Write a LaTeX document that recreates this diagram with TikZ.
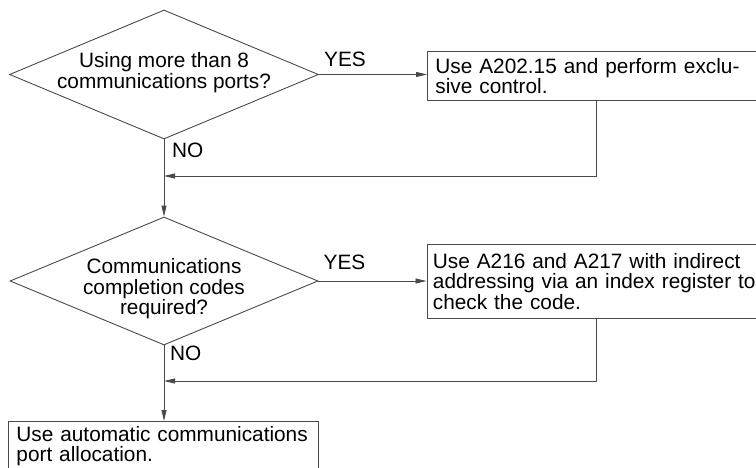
\documentclass[tikz,border=0pt]{standalone}
\usepackage{fontspec}
\setmainfont{Liberation Sans}
\usetikzlibrary{arrows.meta,positioning,shapes.geometric,calc}
\definecolor{Line}{HTML}{4A4A4A}

\begin{document}
\begin{tikzpicture}[x=1pt,y=1pt,
  decision/.style={diamond,draw=Line,line width=0.9pt,aspect=2.4,inner sep=0pt,minimum width=309pt,minimum height=129pt},
  question/.style={align=center,inner sep=0pt,font=\fontsize{20.8}{20.5}\selectfont},
  action/.style={rectangle,draw=Line,line width=0.9pt,anchor=north west,align=left,inner xsep=8pt,inner ysep=3pt,font=\fontsize{20.8}{20.5}\selectfont},
  flow/.style={draw=Line,line width=0.9pt,-{Triangle[length=11pt,width=5pt]}},
  tag/.style={font=\fontsize{20.8}{20.5}\selectfont,inner sep=0pt,anchor=base west}
]
\useasboundingbox (0,0) rectangle (756,467);
% decisions
\node[decision] (q1) at (164,392.5) {};
\node[question] (q1t) at ($(q1)+(0,2)$) {Using more than 8\\communications ports?};
\node[decision,minimum width=308pt,minimum height=128pt] (q2) at (164,186) {};
\node[question] (q2t) at ($(q2)+(0,-8)$) {Communications\\completion codes\\required?};
% actions
\node[action,text width=330pt,minimum height=49pt] (b1) at (427,416) {Use A202.15 and perform exclu-\\sive control.};
\node[action,text width=330pt,inner xsep=6pt,minimum height=74pt] (b2) at (426.5,223) {Use A216 and A217 with indirect\\addressing via an index register to\\check the code.};
\node[action,text width=294pt,minimum height=49pt] (b3) at (8,46) {Use automatic communications\\port allocation.};
% branch labels
\node[tag] (y1) at ($(q1.east)+(5,8)$) {YES};
\node[tag] (y2) at ($(q2.east)+(5,12)$) {YES};
\node[tag] (n1) at ($(q1.south)+(8,-18)$) {NO};
\node[tag] (n2) at ($(q2.south)+(6,-15)$) {NO};
% joins on the main line
\coordinate (m1) at (q1.south |- 0,291);
\coordinate (m2) at (q2.south |- 0,86);
\coordinate (r1) at ([xshift=169pt]b1.south west);
\coordinate (r2) at ([xshift=169.5pt]b2.south west);
% connectors
\draw[flow] (q1.east) -- (q1.east -| b1.west);
\draw[flow] (q2.east) -- (q2.east -| b2.west);
\draw[flow] (q1.south) -- (q2.north);
\draw[flow] (q2.south) -- (q2.south |- b3.north);
\draw[flow] (r1) |- (m1);
\draw[flow] (r2) |- (m2);
\end{tikzpicture}
\end{document}
